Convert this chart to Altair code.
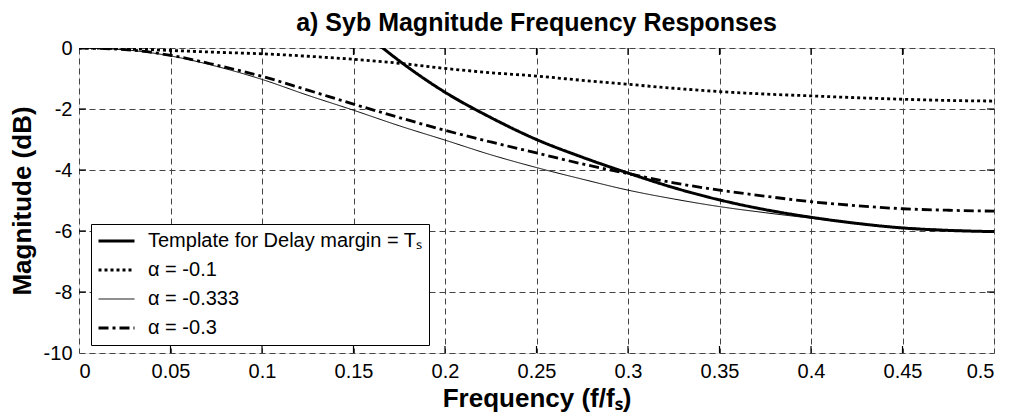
import altair as alt
import pandas as pd

# ---------------- data ----------------
freq = [0, 0.025, 0.05, 0.075, 0.1, 0.125, 0.15, 0.175, 0.2, 0.225, 0.25,
        0.275, 0.3, 0.325, 0.35, 0.375, 0.4, 0.425, 0.45, 0.475, 0.5]
alpha_m01 = [0, -0.02, -0.08, -0.14, -0.19, -0.27, -0.37, -0.5, -0.67, -0.81, -0.92,
             -1.06, -1.19, -1.32, -1.43, -1.51, -1.57, -1.63, -1.68, -1.72, -1.74]
alpha_m0333 = [0, -0.06, -0.26, -0.6, -1.03, -1.55, -2.04, -2.55, -3.02, -3.5, -3.92,
               -4.3, -4.66, -4.95, -5.2, -5.4, -5.58, -5.75, -5.88, -5.96, -6.0]
alpha_m03 = [0, -0.05, -0.24, -0.56, -0.93, -1.38, -1.84, -2.28, -2.7, -3.08, -3.44,
             -3.8, -4.12, -4.42, -4.66, -4.86, -5.04, -5.17, -5.27, -5.32, -5.35]
template_freq = [0.155, 0.166, 0.175, 0.2, 0.225, 0.25, 0.275, 0.3, 0.325, 0.35,
                 0.375, 0.4, 0.425, 0.45, 0.475, 0.5]
template_db = [0.55, 0.0, -0.42, -1.45, -2.28, -3.0, -3.58, -4.1, -4.58, -4.98,
               -5.3, -5.55, -5.75, -5.9, -5.98, -6.02]

series_labels = ["Template for Delay margin = T\u209b", "\u03b1 = -0.1",
                 "\u03b1 = -0.333", "\u03b1 = -0.3"]
x_ticks = [0, 0.05, 0.1, 0.15, 0.2, 0.25, 0.3, 0.35, 0.4, 0.45, 0.5]
y_ticks = [-10, -8, -6, -4, -2, 0]

# ---------------- tables ----------------
rows = []
for f, v in zip(template_freq, template_db):
    rows.append({"f": f, "db": v, "series": series_labels[0], "o": 0})
for f, v in zip(freq, alpha_m01):
    rows.append({"f": f, "db": v, "series": series_labels[1], "o": 1})
for f, v in zip(freq, alpha_m0333):
    rows.append({"f": f, "db": v, "series": series_labels[2], "o": 2})
for f, v in zip(freq, alpha_m03):
    rows.append({"f": f, "db": v, "series": series_labels[3], "o": 3})
df = pd.DataFrame(rows)

TL_Y = 7 * 10 / 305      # inward tick length in dB units
TL_X = 7 * 0.5 / 915     # inward tick length in frequency units
inner_x = x_ticks[1:-1]
inner_y = y_ticks[1:-1]
tick_rows = []
for t in inner_x:
    tick_rows.append({"x": t, "x2": t, "y": -10, "y2": -10 + TL_Y})
    tick_rows.append({"x": t, "x2": t, "y": 0, "y2": -TL_Y})
for t in inner_y:
    tick_rows.append({"x": 0, "x2": TL_X, "y": t, "y2": t})
    tick_rows.append({"x": 0.5, "x2": 0.5 - TL_X, "y": t, "y2": t})
ticks_df = pd.DataFrame(tick_rows)

FONT = "Liberation Sans"

xscale = alt.Scale(domain=[0, 0.5], nice=False, zero=False)
yscale = alt.Scale(domain=[-10, 0], nice=False, zero=False)

legend = alt.Legend(
    title=None, orient="none", legendX=12, legendY=176,
    strokeColor="black", fillColor="white", padding=6,
    symbolType="stroke", symbolSize=1296, symbolStrokeColor="black",
    labelFont=FONT, labelFontSize=20, labelColor="black", labelLimit=500,
    rowPadding=7, clipHeight=22, labelOffset=12,
)

label_expr = "'' + datum.value"

lines = alt.Chart(df).mark_line(clip=True, color="black", interpolate="monotone").encode(
    x=alt.X("f:Q", scale=xscale,
            axis=alt.Axis(values=x_ticks, labelExpr=label_expr, title="Frequency (f/f\u209b)",
                          grid=True, gridDash=[6, 4], gridColor="#444", gridWidth=1,
                          ticks=False, domain=False, labelPadding=8,
                          labelFont=FONT, labelFontSize=20, labelColor="black",
                          titleFont=FONT, titleFontSize=26, titleFontWeight="bold",
                          titleColor="black", titlePadding=4)),
    y=alt.Y("db:Q", scale=yscale,
            axis=alt.Axis(values=y_ticks, labelExpr=label_expr, title="Magnitude (dB)",
                          grid=True, gridDash=[6, 4], gridColor="#444", gridWidth=1,
                          ticks=False, domain=False, labelPadding=7,
                          labelFont=FONT, labelFontSize=20, labelColor="black",
                          titleFont=FONT, titleFontSize=26, titleFontWeight="bold",
                          titleColor="black", titlePadding=8)),
    strokeDash=alt.StrokeDash("series:N",
                              scale=alt.Scale(domain=series_labels,
                                              range=[[1, 0], [3, 3], [1, 0], [10, 4, 3, 4]]),
                              legend=legend),
    strokeWidth=alt.StrokeWidth("series:N",
                                scale=alt.Scale(type="ordinal", domain=series_labels,
                                                range=[3, 2.8, 1, 2.8]),
                                legend=legend),
    order="o:Q",
    detail="series:N",
)

ticks = alt.Chart(ticks_df).mark_rule(color="black", strokeWidth=1.2).encode(
    x=alt.X("x:Q", scale=xscale), x2="x2:Q",
    y=alt.Y("y:Q", scale=yscale), y2="y2:Q",
)

chart = alt.layer(lines, ticks).properties(
    width=915, height=305,
    title=alt.TitleParams("a) Syb Magnitude Frequency Responses", font=FONT,
                          fontSize=25, fontWeight="bold", color="black",
                          anchor="middle", offset=2),
    autosize=alt.AutoSizeParams(type="none"),
    padding={"left": 79, "top": 48, "right": 18, "bottom": 62},
).configure_view(stroke="black", strokeWidth=1.6).configure(background="white")

chart.save("out.html", embed_options={"renderer": "svg", "actions": False})
